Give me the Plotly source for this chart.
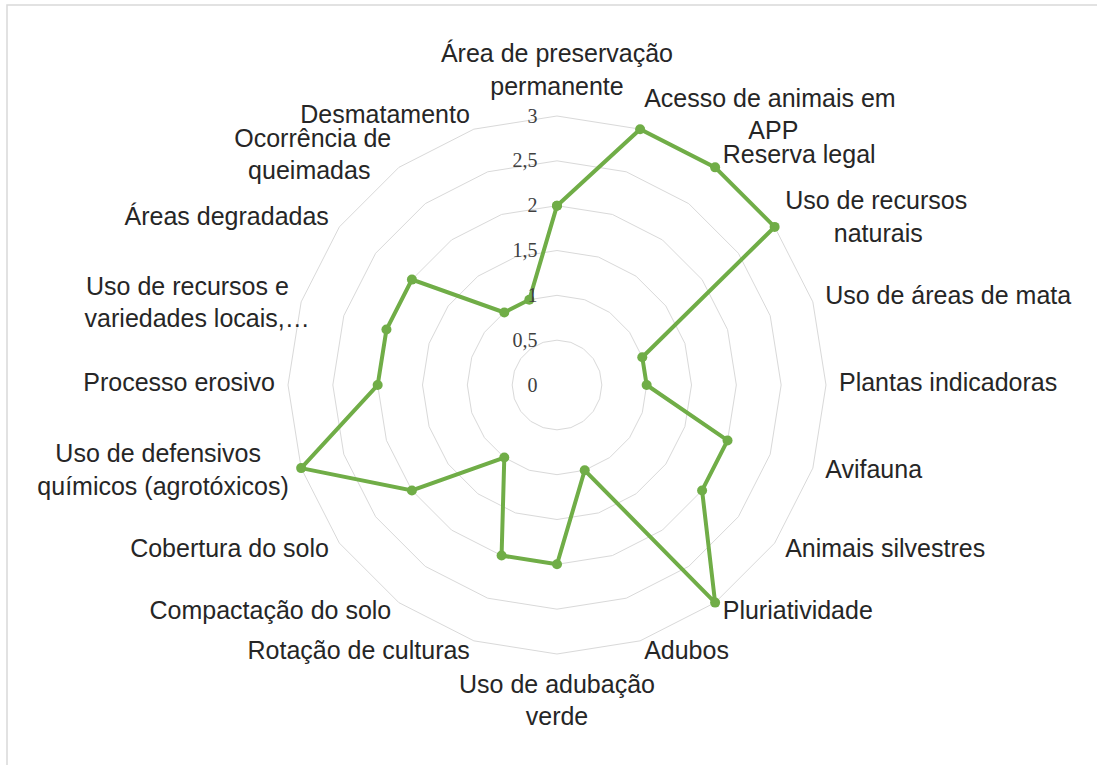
import plotly.graph_objects as go

categories = [
    "Área de preservação permanente",
    "Acesso de animais em APP",
    "Reserva legal",
    "Uso de recursos naturais",
    "Uso de áreas de mata",
    "Plantas indicadoras",
    "Avifauna",
    "Animais silvestres",
    "Pluriatividade",
    "Adubos",
    "Uso de adubação verde",
    "Rotação de culturas",
    "Compactação do solo",
    "Cobertura do solo",
    "Uso de defensivos químicos (agrotóxicos)",
    "Processo erosivo",
    "Uso de recursos e variedades locais,…",
    "Áreas degradadas",
    "Ocorrência de queimadas",
    "Desmatamento",
]
# wrapped display labels (NBSP padding approximates centred lines)
NB = "\u00a0"
labels = [
    "Área de preservação<br>permanente",
    "Acesso de animais em<br>" + NB * 15 + "APP",
    "Reserva legal",
    "Uso de recursos<br>" + NB * 7 + "naturais",
    "Uso de áreas de mata",
    "Plantas indicadoras",
    "Avifauna",
    "Animais silvestres",
    "Pluriatividade",
    "Adubos",
    "Uso de adubação<br>verde",
    "Rotação de culturas",
    "Compactação do solo",
    "Cobertura do solo",
    "Uso de defensivos" + NB * 4 + "<br>químicos (agrotóxicos)",
    "Processo erosivo",
    "Uso de recursos e" + NB * 3 + "<br>variedades locais,…",
    "Áreas degradadas",
    "Ocorrência de<br>queimadas" + NB * 3,
    "Desmatamento",
]
values = [2, 3, 3, 3, 1, 1, 2, 2, 3, 1, 2, 2, 1, 2, 3, 2, 2, 2, 1, 1]
radial_ticks = [0, 0.5, 1, 1.5, 2, 2.5, 3]

W, H = 1097, 765
cx, cy, R = 557, 385, 269          # centre and pixel radius of the value-3 ring
r_max = 3.25                       # radial range extends past 3 to hold the labels
Rd = R * r_max / 3                 # pixel radius of the polar domain
pad_override = {16: -9}            # this label sits over the outer ring in the original

n = len(categories)
positions, label_r = [], []
for i in range(n):
    if i == 0:
        pos, pad = "top center", 15
    elif i == n // 2:
        pos, pad = "bottom center", 20
    elif i < n // 2:
        pos, pad = "middle right", 13
    else:
        pos, pad = "middle left", 13
    pad = pad_override.get(i, pad)
    positions.append(pos)
    label_r.append(3 * (R + pad) / R)

fig = go.Figure()
fig.add_trace(go.Scatterpolar(
    r=values + values[:1],
    theta=categories + categories[:1],
    mode="lines+markers",
    line=dict(color="#70AD47", width=4),
    marker=dict(color="#70AD47", size=10),
    cliponaxis=False,
    showlegend=False,
    hoverinfo="skip",
))
fig.add_trace(go.Scatterpolar(
    r=label_r,
    theta=categories,
    mode="text",
    text=labels,
    textposition=positions,
    textfont=dict(family="Liberation Sans, Arial, sans-serif", size=25, color="#262626"),
    cliponaxis=False,
    showlegend=False,
    hoverinfo="skip",
))

fig.update_layout(
    width=W, height=H,
    margin=dict(l=0, r=0, t=0, b=0),
    paper_bgcolor="white",
    separators=",.",
    polar=dict(
        domain=dict(x=[(cx - Rd) / W, (cx + Rd) / W],
                    y=[(H - cy - Rd) / H, (H - cy + Rd) / H]),
        bgcolor="rgba(0,0,0,0)",
        gridshape="linear",
        radialaxis=dict(
            range=[0, r_max],
            tickvals=radial_ticks,
            angle=90,
            side="counterclockwise",
            showline=False,
            ticks="outside",
            ticklen=12,
            tickcolor="rgba(0,0,0,0)",
            showgrid=True,
            gridcolor="#d9d9d9",
            gridwidth=1,
            tickangle=90,
            tickfont=dict(family="Liberation Serif, Times New Roman, serif", size=20, color="#404040"),
        ),
        angularaxis=dict(
            categoryarray=categories,
            categoryorder="array",
            direction="clockwise",
            rotation=90,
            showgrid=False,
            showline=False,
            ticks="",
            showticklabels=False,
        ),
    ),
    shapes=[dict(type="rect", xref="paper", yref="paper",
                 x0=7 / W, x1=1.02, y0=-0.02, y1=1 - 5 / H,
                 line=dict(color="#d9d9d9", width=1.5), fillcolor="rgba(0,0,0,0)", layer="below")],
)

fig.write_html("out.html", config={"displayModeBar": False},
               post_script="document.body.style.margin='0';")
